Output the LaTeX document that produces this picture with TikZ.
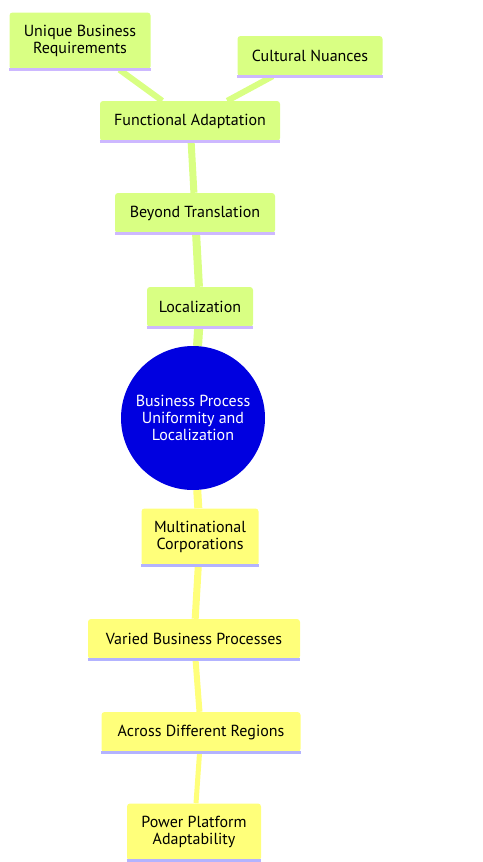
\documentclass[tikz,border=0pt]{standalone}
\usepackage{fontspec}
\setmainfont{PT Sans}
\usetikzlibrary{backgrounds}
\definecolor{leafgreen}{HTML}{D9FF83}
\definecolor{leafyellow}{HTML}{FFFF7A}
\definecolor{greenline}{HTML}{CDB8FF}
\definecolor{yellowline}{HTML}{B3B3FF}
\definecolor{rootblue}{HTML}{0000E0}
\begin{document}
\begin{tikzpicture}[x=1pt,y=-1pt,
    topic/.style ={rectangle, rounded corners=3pt, inner sep=0pt,
      minimum height=40pt, align=center, font=\fontsize{16}{17.5}\selectfont},
    greentopic/.style ={topic, fill=leafgreen,
      append after command={(\tikzlastnode.south west) edge[draw=greenline,line width=3pt] (\tikzlastnode.south east)}},
    yellowtopic/.style ={topic, fill=leafyellow,
      append after command={(\tikzlastnode.south west) edge[draw=yellowline,line width=3pt] (\tikzlastnode.south east)}},
    greenlink/.style ={draw=leafgreen},
    yellowlink/.style ={draw=leafyellow}]
   \useasboundingbox (0,0) rectangle (482,862);

   % root
   \node[circle, fill=rootblue, text=white, minimum size=144pt, align=center,
     font=\fontsize{16}{17}\selectfont] (root) at (193,418)
     {Business Process\\Uniformity and\\Localization};

   % upper branch
   \node[greentopic, minimum width=106pt] (loc) at (200,307) {Localization};
   \node[greentopic, minimum width=160pt] (beyond) at (195,213) {Beyond Translation};
   \node[greentopic, minimum width=180pt] (func) at (190,121) {Functional Adaptation};
   \node[greentopic, minimum width=141pt, minimum height=57pt] (unique) at (80,41) {Unique Business\\Requirements};
   \node[greentopic, minimum width=145pt] (cult) at (310,56) {Cultural Nuances};

   % lower branch
   \node[yellowtopic, minimum width=117pt, minimum height=57pt] (multi) at (200,537) {Multinational\\Corporations};
   \node[yellowtopic, minimum width=212pt] (varied) at (194,639) {Varied Business Processes};
   \node[yellowtopic, minimum width=199pt] (across) at (201,732) {Across Different Regions};
   \node[yellowtopic, minimum width=134pt, minimum height=57pt] (power) at (194,832) {Power Platform\\Adaptability};

   \begin{pgfonlayer}{background}
   \draw[greenlink,line width=9pt] (root) to (loc);
   \draw[greenlink,line width=8pt] (loc) to (beyond);
   \draw[greenlink,line width=7pt] (beyond) to (func);
   \draw[greenlink,line width=6pt] (func) to (unique);
   \draw[greenlink,line width=6pt] (func) to (cult);
   \draw[yellowlink,line width=8pt] (root) to (multi);
   \draw[yellowlink,line width=7pt] (multi) to (varied);
   \draw[yellowlink,line width=6pt] (varied) to (across);
   \draw[yellowlink,line width=5pt] (across) to (power);
   \end{pgfonlayer}
 \end{tikzpicture}
\end{document}
